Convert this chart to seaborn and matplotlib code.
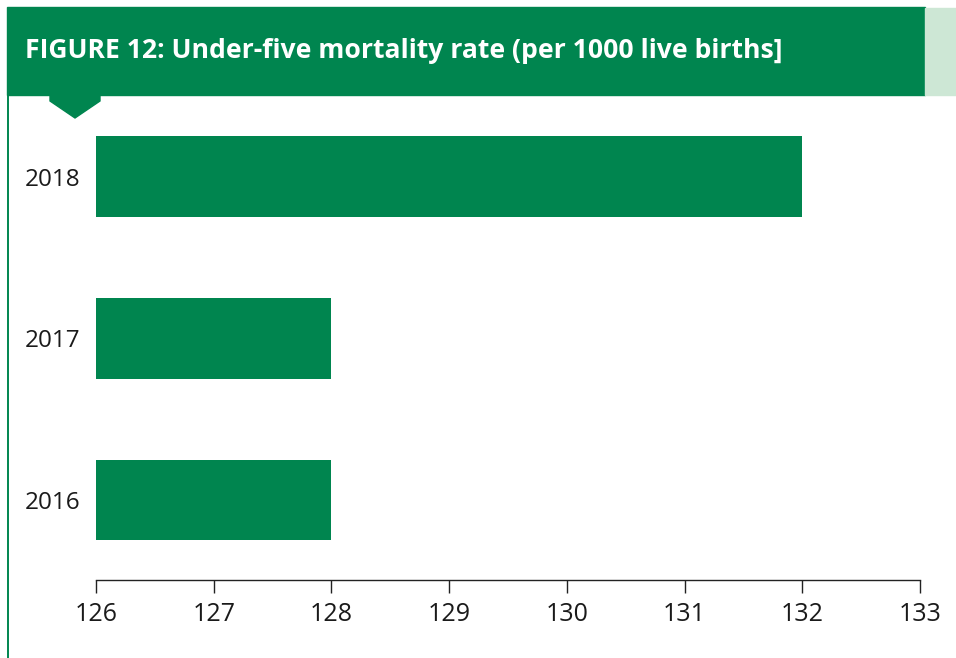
import matplotlib
matplotlib.use("Agg")
import matplotlib.pyplot as plt
import seaborn as sns
import pandas as pd
from matplotlib.patches import Rectangle, Polygon
from matplotlib.lines import Line2D

years = ["2018", "2017", "2016"]
rates = [132, 128, 128]
x_ticks = [126, 127, 128, 129, 130, 131, 132, 133]
title = "FIGURE 12: Under-five mortality rate (per 1000 live births]"

GREEN = "#00854F"
LIGHT = "#CDE7D5"

sns.set_theme(style="white")
plt.rcParams["font.family"] = ["Open Sans", "DejaVu Sans"]

W, H = 956, 658
fig = plt.figure(figsize=(W / 100, H / 100), dpi=100)
ax = fig.add_axes([96 / W, (H - 580) / H, (920 - 96) / W, (580 - 96) / H])

df = pd.DataFrame({"year": years, "rate": rates})
sns.barplot(data=df, x="rate", y="year", order=years, color=GREEN,
            saturation=1, width=0.5, ax=ax, orient="h")
for p in ax.patches:
    p.set_edgecolor("none")

ax.set_xlim(126, 133)
ax.set_ylim(2.495, -0.5)
ax.set_xticks(x_ticks)
ax.set_xticklabels([str(t) for t in x_ticks], fontsize=18, color="#1a1a1a")
ax.tick_params(axis="x", direction="out", length=9.5, width=1, color="#222222", pad=6.5, bottom=True)
ax.tick_params(axis="y", length=0, pad=11, labelsize=17.5, labelcolor="#1a1a1a")
ax.set_xlabel("")
ax.set_ylabel("")
for s in ["top", "right", "left"]:
    ax.spines[s].set_visible(False)
ax.spines["bottom"].set_color("#222222")
ax.spines["bottom"].set_linewidth(1)
ax.grid(False)

def fx(px):
    return px / W

def fy(py):
    return 1 - py / H

# header band
fig.patches.append(Rectangle((fx(7), fy(95)), fx(925) - fx(7), fy(7) - fy(95),
                             transform=fig.transFigure, color=GREEN, zorder=0))
fig.patches.append(Rectangle((fx(925), fy(95)), fx(956) - fx(925), fy(8) - fy(95),
                             transform=fig.transFigure, color=LIGHT, zorder=0))
# pointer
fig.patches.append(Polygon([(fx(50), fy(94)), (fx(100), fy(94)), (fx(100), fy(101)),
                            (fx(75), fy(118)), (fx(50), fy(101))],
                           closed=True, transform=fig.transFigure, color=GREEN, zorder=1))
# left border line
fig.lines.append(Line2D([fx(7.5), fx(7.5)], [fy(95), 0], transform=fig.transFigure,
                        color=GREEN, linewidth=1.4))

fig.text(fx(25), fy(51), title, fontsize=19.1, fontweight="bold", color="white",
         va="center", ha="left")

fig.savefig("out.png", dpi=100)
